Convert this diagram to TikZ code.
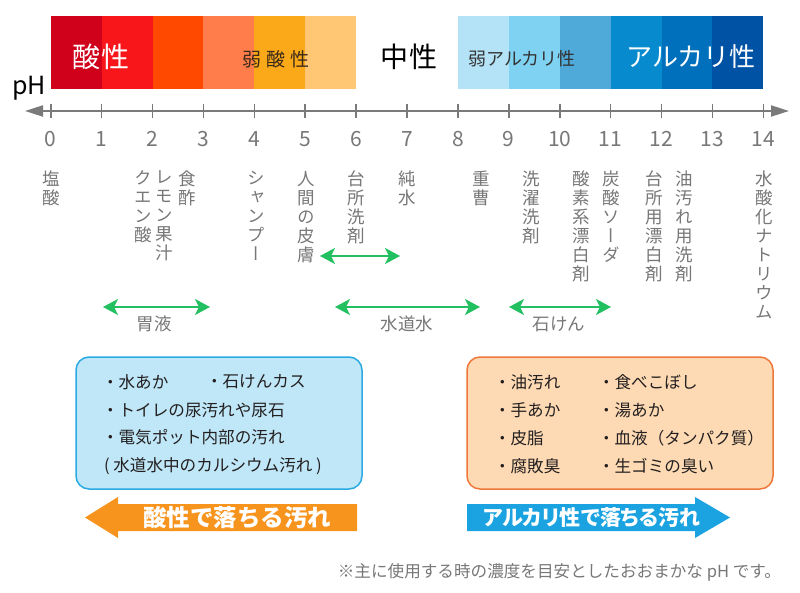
\documentclass[tikz,border=0pt]{standalone}
\usepackage{fontspec}
\setmainfont{Noto Sans CJK JP}
\newfontfamily\jpv[RawFeature=+vert]{Noto Sans CJK JP}
\newfontfamily\jpp[RawFeature=+palt]{Noto Sans CJK JP}
\usetikzlibrary{arrows.meta}
\definecolor{ac0}{HTML}{D0011B}
\definecolor{ac1}{HTML}{F8161A}
\definecolor{ac2}{HTML}{FF4800}
\definecolor{ac3}{HTML}{FF7D4A}
\definecolor{ac4}{HTML}{FBA918}
\definecolor{ac5}{HTML}{FFC674}
\definecolor{al8}{HTML}{B4E2F6}
\definecolor{al9}{HTML}{80D2F2}
\definecolor{al10}{HTML}{4FAAD9}
\definecolor{al11}{HTML}{078BCE}
\definecolor{al12}{HTML}{0070BC}
\definecolor{al13}{HTML}{0052A5}
\definecolor{txtgray}{HTML}{777777}
\definecolor{axgray}{HTML}{7A7A7A}
\definecolor{grn}{HTML}{22C060}
\definecolor{dark}{HTML}{231F20}
\definecolor{lbfill}{HTML}{BFE7F7}
\definecolor{lbdraw}{HTML}{2AAAE2}
\definecolor{rbfill}{HTML}{FDDAB3}
\definecolor{rbdraw}{HTML}{F0773A}
\definecolor{orA}{HTML}{F7941D}
\definecolor{blA}{HTML}{1AA3E0}
\definecolor{weakac}{HTML}{3A2A1A}
\begin{document}
\begin{tikzpicture}[x=1pt,y=-1pt,
  every node/.style={inner sep=0pt,outer sep=0pt},
  biglab/.style={font=\fontsize{27}{27}\selectfont},
  midlab/.style={font=\fontsize{18}{18}\selectfont},
  vl/.style={font=\jpv\fontsize{17.5}{19}\selectfont,text=txtgray,align=center,anchor=north},
  num/.style={font=\fontsize{21}{21}\selectfont,text=txtgray},
  rangelab/.style={font=\fontsize{17.5}{17.5}\selectfont,text=txtgray},
  garrow/.style={draw=grn,line width=2.2pt,{Stealth[length=15pt,width=16pt,inset=4pt]}-{Stealth[length=15pt,width=16pt,inset=4pt]}},
  axisline/.style={draw=axgray,line width=2pt,{Triangle[length=18pt,width=11pt]}-{Triangle[length=18pt,width=11pt]}},
  tickline/.style={draw=axgray,line width=1.6pt},
  boxtxt/.style={font=\fontsize{16.6}{16.6}\selectfont,text=dark,anchor=west},
  arrtxt/.style={font=\bfseries\fontsize{23.5}{23.5}\selectfont,text=white},
  arrtxtp/.style={font=\jpp\bfseries\fontsize{21}{21}\selectfont,text=white}]
\useasboundingbox (0,0) rectangle (800,593);
% colour bars
\fill[ac0] (50.7,16) rectangle (101.6,89);
\fill[ac1] (101.6,16) rectangle (152.5,89);
\fill[ac2] (152.5,16) rectangle (203.4,89);
\fill[ac3] (203.4,16) rectangle (254.3,89);
\fill[ac4] (254.3,16) rectangle (305.2,89);
\fill[ac5] (305.2,16) rectangle (356.1,89);
\fill[al8] (457.9,16) rectangle (508.8,89);
\fill[al9] (508.8,16) rectangle (559.7,89);
\fill[al10] (559.7,16) rectangle (610.6,89);
\fill[al11] (610.6,16) rectangle (661.5,89);
\fill[al12] (661.5,16) rectangle (712.4,89);
\fill[al13] (712.4,16) rectangle (763.3,89);
\node[biglab,font=\fontsize{28}{28}\selectfont,text=white] (acid) at (101,57) {酸\hspace{1pt}性};
\node[midlab,font=\fontsize{19}{19}\selectfont,text=weakac] (weakacid) at (276,59) {弱\hspace{5pt}酸\hspace{5pt}性};
\node[biglab,font=\fontsize{28}{28}\selectfont,text=black] (neutral) at (409,57) {中\hspace{1pt}性};
\node[midlab,text=black!80] (weakalk) at (522,59) {弱アルカリ性};
\node[biglab,font=\fontsize{26}{26}\selectfont,text=white] (alk) at (691,57) {アルカリ性};
\node[font=\fontsize{25}{25}\selectfont,text=black] (ph) at (29,88) {pH};
% axis
\coordinate (axL) at (25,111);
\coordinate (axR) at (789,111);
\draw[axisline] (axL) -- (axR);
\foreach \i in {0,...,14}{
  \draw[tickline] ({50.7+50.9*\i},104) -- ({50.7+50.9*\i},118);
  \node[num] (n\i) at ({50.7+50.9*\i},139) {\i};
}
% vertical labels
\node[vl] (v1) at (51,171) {塩\\酸};
\node[vl] (v2) at (143,171) {ク\\エ\\ン\\酸};
\node[vl] (v3) at (164,171) {レ\\モ\\ン\\果\\汁};
\node[vl] (v4) at (187,171) {食\\酢};
\node[vl] (v5) at (256,171) {シ\\ャ\\ン\\プ\\ー};
\node[vl] (v6) at (306,171) {人\\間\\の\\皮\\膚};
\node[vl] (v7) at (356,171) {台\\所\\洗\\剤};
\node[vl] (v8) at (407,171) {純\\水};
\node[vl] (v9) at (481,171) {重\\曹};
\node[vl] (v10) at (531,171) {洗\\濯\\洗\\剤};
\node[vl] (v11) at (581,171) {酸\\素\\系\\漂\\白\\剤};
\node[vl] (v12) at (611,171) {炭\\酸\\ソ\\ー\\ダ};
\node[vl] (v13) at (654,171) {台\\所\\用\\漂\\白\\剤};
\node[vl] (v14) at (684,171) {油\\汚\\れ\\用\\洗\\剤};
\node[vl] (v15) at (764,171) {水\\酸\\化\\ナ\\ト\\リ\\ウ\\ム};
% range arrows
\coordinate (skA) at (320,256);
\coordinate (skB) at (400,256);
\draw[garrow] (skA) -- (skB);
\coordinate (gaA) at (103,307);
\coordinate (gaB) at (210,307);
\draw[garrow] (gaA) -- (gaB);
\node[rangelab] (gastric) at (154,324) {胃液};
\coordinate (twA) at (335,307);
\coordinate (twB) at (480,307);
\draw[garrow] (twA) -- (twB);
\node[rangelab] (tap) at (407,324) {水道水};
\coordinate (soA) at (509,307);
\coordinate (soB) at (611,307);
\draw[garrow] (soA) -- (soB);
\node[rangelab] (soap) at (559,324) {石けん};
% boxes
\node[draw=lbdraw,fill=lbfill,line width=1.5pt,rounded corners=13pt,minimum width=286pt,minimum height=132pt] (lbox) at (219,423) {};
\node[boxtxt] (l1) at (102,382) {・水あか};
\node[boxtxt] (l2) at (206,382) {・石けんカス};
\node[boxtxt] (l3) at (102,410) {・トイレの尿汚れや尿石};
\node[boxtxt] (l4) at (102,437) {・電気ポット内部の汚れ};
\node[boxtxt] (l5) at (104,466) {( 水道水中のカルシウム汚れ )};
\node[draw=rbdraw,fill=rbfill,line width=1.5pt,rounded corners=13pt,minimum width=306pt,minimum height=132pt] (rbox) at (620,423) {};
\node[boxtxt] (r1) at (494,382) {・油汚れ};
\node[boxtxt] (r2) at (494,410) {・手あか};
\node[boxtxt] (r3) at (494,438) {・皮脂};
\node[boxtxt] (r4) at (494,466) {・腐敗臭};
\node[boxtxt] (r5) at (598,382) {・食べこぼし};
\node[boxtxt] (r6) at (598,410) {・湯あか};
\node[boxtxt] (r7) at (598,438) {・血液（タンパク質）};
\node[boxtxt] (r8) at (598,466) {・生ゴミの臭い};
% big arrows
\fill[orA] (85,517.5) -- (118,497) -- (118,504) -- (357,504) -- (357,531) -- (118,531) -- (118,538) -- cycle;
\node[arrtxt] (acidtxt) at (237,518) {酸性で落ちる汚れ};
\fill[blA] (730,517.5) -- (695,497) -- (695,504) -- (467,504) -- (467,531) -- (695,531) -- (695,538) -- cycle;
\node[arrtxtp] (alktxt) at (592,518) {アルカリ性で落ちる汚れ};
% footnote
\node[anchor=east,font=\fontsize{16.6}{16.6}\selectfont,text=txtgray] (note) at (781,572) {※主に使用する時の濃度を目安としたおおまかな pH です。};
\end{tikzpicture}
\end{document}
